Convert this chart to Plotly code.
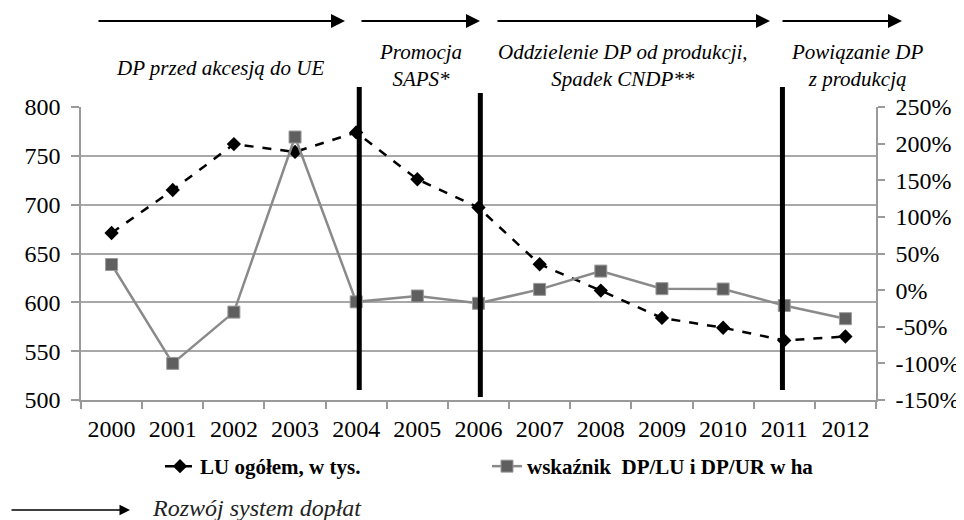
import plotly.graph_objects as go

years = ["2000", "2001", "2002", "2003", "2004", "2005", "2006",
         "2007", "2008", "2009", "2010", "2011", "2012"]
lu_total = [671, 715, 762, 754, 774, 726, 697, 639, 612, 584, 574, 561, 565]
dp_index = [0.35, -1.00, -0.30, 2.09, -0.16, -0.08, -0.18,
            0.01, 0.26, 0.02, 0.015, -0.21, -0.39]
left_ticks = [500, 550, 600, 650, 700, 750, 800]
right_tickvals = [-1.5, -1.0, -0.5, 0.0, 0.5, 1.0, 1.5, 2.0, 2.5]
right_ticktext = ["-150%", "-100%", "-50%", "0%", "50%", "100%", "150%", "200%", "250%"]
period_breaks = ["2004", "2006", "2011"]
phase_labels = ["DP przed akcesją do UE", "Promocja<br>SAPS*",
                "Oddzielenie DP od produkcji,<br>Spadek CNDP**",
                "Powiązanie DP<br>z produkcją"]
legend_note = "Rozwój system dopłat"

SERIF = "Liberation Serif, Times New Roman, serif"
OFF = 8  # page body margin of the html page
L, R, T, B = 81 - OFF, 876 - OFF, 107 - OFF, 400 - OFF
W, H = 964 - OFF, 520 - OFF


def px(p):
    return (p - OFF - L) / (R - L)


def py(p):
    return (B - (p - OFF)) / (B - T)


fig = go.Figure()
fig.add_trace(go.Scatter(
    x=years, y=lu_total, name="LU ogółem, w tys.", mode="lines+markers",
    line=dict(color="black", width=2.5, dash="dash"),
    marker=dict(symbol="diamond", size=11, color="black"),
    yaxis="y"))
fig.add_trace(go.Scatter(
    x=years, y=dp_index, name="wskaźnik  DP/LU i DP/UR w ha", mode="lines+markers",
    line=dict(color="#8a8a8a", width=2.5),
    marker=dict(symbol="square", size=12, color="#5f5f5f",
                line=dict(color="#9a9a9a", width=1)),
    yaxis="y2"))

shapes = []
ext = {"2004": (87, 390, 0.05), "2006": (93, 397, 0.03), "2011": (87, 390, -0.03)}
for yr in period_breaks:
    y0, y1, dx = ext[yr]
    xc = (years.index(yr) + 0.5 + dx) / len(years)
    shapes.append(dict(type="line", xref="paper", yref="paper",
                       x0=xc, x1=xc, y0=py(y1), y1=py(y0),
                       line=dict(color="black", width=5), layer="above"))

annotations = []
arrows = [(97, 345), (360, 480), (496, 770), (781, 902)]
for a0, a1 in arrows:
    annotations.append(dict(
        xref="paper", yref="paper", axref="pixel", ayref="pixel",
        x=px(a1), y=py(21), ax=a0 - a1, ay=0, text="",
        showarrow=True, arrowhead=2, arrowsize=1.4, arrowwidth=2,
        arrowcolor="black"))
label_pos = [(220, 68), (420, 66), (623, 66), (857, 66)]
for txt, (lx, ly) in zip(phase_labels, label_pos):
    annotations.append(dict(
        xref="paper", yref="paper", x=px(lx), y=py(ly),
        text="<i>" + txt + "</i>", showarrow=False,
        xanchor="center", yanchor="middle", align="center",
        font=dict(family=SERIF, size=21, color="black")))
# bottom legend note
annotations.append(dict(
    xref="paper", yref="paper", axref="pixel", ayref="pixel",
    x=px(130), y=py(510), ax=-120, ay=0, text="",
    showarrow=True, arrowhead=2, arrowsize=1.4, arrowwidth=1.5,
    arrowcolor="black"))
annotations.append(dict(
    xref="paper", yref="paper", x=px(150), y=py(508),
    text="<i>" + legend_note + "</i>", showarrow=False,
    xanchor="left", yanchor="middle",
    font=dict(family=SERIF, size=24, color="#222")))

fig.update_layout(
    shapes=shapes,
    annotations=annotations,
    width=W, height=H,
    margin=dict(l=L, r=W - R, t=T, b=H - B, autoexpand=False),
    paper_bgcolor="white", plot_bgcolor="white",
    font=dict(family=SERIF, size=24, color="black"),
    showlegend=True,
    legend=dict(orientation="h", x=px(160), y=py(446), xanchor="left", yanchor="top",
                font=dict(family=SERIF, size=21, color="black", weight="bold"),
                entrywidth=282, entrywidthmode="pixels",
                bgcolor="rgba(0,0,0,0)"),
    xaxis=dict(type="category", range=[-0.5, 12.5], tickson="boundaries",
               showgrid=False, showline=True, linecolor="#9a9a9a", linewidth=1.5,
               ticks="outside", ticklen=7, tickcolor="#9a9a9a", tickwidth=1.5,
               ticklabelstandoff=6,
               tickfont=dict(family=SERIF, size=24, color="black")),
    yaxis=dict(range=[500, 800], tickvals=left_ticks,
               showgrid=True, gridcolor="#a8a8a8", gridwidth=1.5,
               showline=True, linecolor="#9a9a9a", linewidth=1.5,
               ticks="outside", ticklen=8, tickcolor="#9a9a9a", tickwidth=1.5,
               ticklabelstandoff=6, zeroline=False,
               tickfont=dict(family=SERIF, size=24, color="black")),
    yaxis2=dict(range=[-1.5, 2.5], overlaying="y", side="right",
                tickvals=right_tickvals, ticktext=right_ticktext,
                showgrid=False, zeroline=False,
                showline=True, linecolor="#9a9a9a", linewidth=1.5,
                ticks="outside", ticklen=7, tickcolor="#9a9a9a", tickwidth=1.5,
                ticklabelstandoff=6,
                tickfont=dict(family=SERIF, size=24, color="black")),
)

fig.write_html("out.html")
